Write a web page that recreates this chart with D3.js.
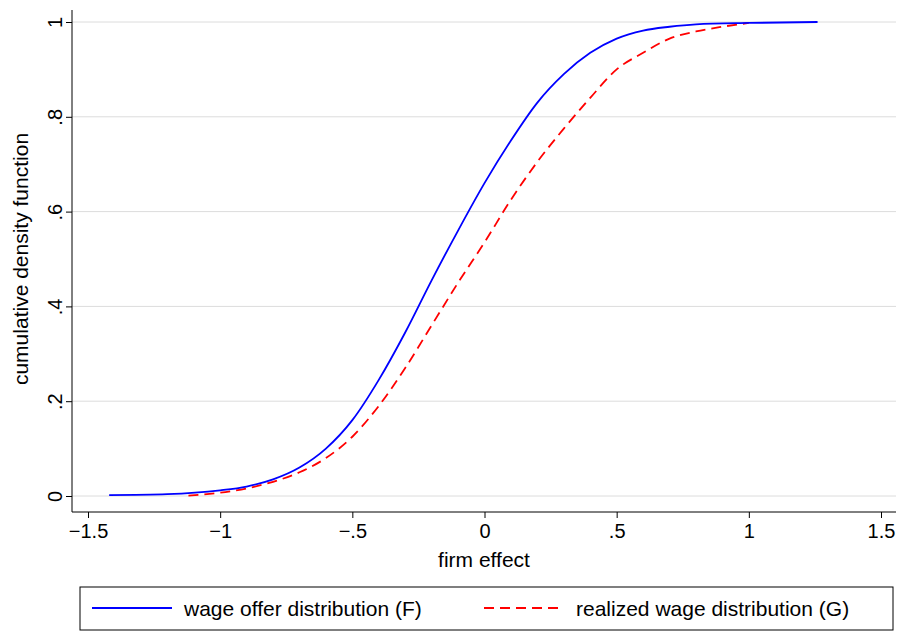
<!DOCTYPE html><html><head><meta charset="utf-8">
<script src="https://cdn.jsdelivr.net/npm/d3@7"></script>
<style>body{margin:0;background:#fff}text{font-family:"Liberation Sans",Arial,sans-serif}</style></head><body>
<svg id="c" width="901" height="633"></svg>
<script>
const xTicks=[-1.5,-1,-0.5,0,0.5,1,1.5];
const xTickLabels=["−1.5","−1","−.5","0",".5","1","1.5"];
const yTicks=[0,0.2,0.4,0.6,0.8,1];
const yTickLabels=["0",".2",".4",".6",".8","1"];
const fX=[-1.42,-1.2,-1.0,-0.9,-0.8,-0.7,-0.6,-0.5,-0.4,-0.3,-0.2,-0.1,0,0.1,0.2,0.3,0.4,0.5,0.6,0.7,0.8,1.0,1.26];
const fY=[0.002,0.004,0.012,0.02,0.035,0.06,0.1,0.16,0.245,0.345,0.455,0.56,0.66,0.75,0.83,0.89,0.935,0.965,0.982,0.99,0.995,0.998,1.0];
const gX=[-1.12,-1.0,-0.9,-0.8,-0.7,-0.6,-0.5,-0.4,-0.3,-0.2,-0.1,0,0.1,0.2,0.3,0.4,0.5,0.6,0.7,0.8,0.9,1.0];
const gY=[0.001,0.007,0.016,0.03,0.05,0.08,0.125,0.19,0.27,0.36,0.45,0.535,0.625,0.705,0.775,0.84,0.9,0.935,0.965,0.98,0.99,0.998];
const svg=d3.select("#c");
const x=d3.scaleLinear().domain([-1.5,1.5]).range([88,881]);
const y=d3.scaleLinear().domain([0,1]).range([496,22]);
const L=72,R=896,B=512;
svg.append("g").selectAll("line").data(yTicks).join("line")
 .attr("x1",L).attr("x2",R).attr("y1",d=>y(d)).attr("y2",d=>y(d)).attr("stroke","#dcdcdc");
const xa=svg.append("g").attr("transform",`translate(0,${B})`).call(d3.axisBottom(x).tickValues(xTicks).tickFormat((d,i)=>xTickLabels[i]).tickSize(6).tickSizeOuter(0));
xa.select(".domain").remove();
xa.append("line").attr("x1",L).attr("x2",R).attr("stroke","#000");
xa.selectAll("text").attr("font-size",20).attr("fill","#000").attr("dy","0.85em");
const ya=svg.append("g").attr("transform",`translate(${L},0)`).call(d3.axisLeft(y).tickValues(yTicks).tickFormat((d,i)=>yTickLabels[i]).tickSize(6).tickSizeOuter(0));
ya.select(".domain").remove();
ya.append("line").attr("y1",10).attr("y2",B).attr("stroke","#000");
ya.selectAll(".tick text").each(function(d){d3.select(this).attr("font-size",20).attr("fill","#000").attr("x",-17).attr("y",0).attr("dy","0.35em").attr("text-anchor","middle").attr("transform","rotate(-90,-17,0)")});
svg.append("text").attr("x",484).attr("y",567).attr("text-anchor","middle").attr("font-size",21).text("firm effect");
svg.append("text").attr("transform","translate(28,259) rotate(-90)").attr("text-anchor","middle").attr("font-size",21).text("cumulative density function");
const line=d3.line().x(d=>x(d[0])).y(d=>y(d[1])).curve(d3.curveMonotoneX);
svg.append("path").attr("d",line(gX.map((v,i)=>[v,gY[i]]))).attr("fill","none").attr("stroke","#ff0000").attr("stroke-width",1.8).attr("stroke-dasharray","10,6");
svg.append("path").attr("d",line(fX.map((v,i)=>[v,fY[i]]))).attr("fill","none").attr("stroke","#0000ff").attr("stroke-width",1.8);
svg.append("rect").attr("x",80).attr("y",587).attr("width",813).attr("height",43).attr("fill","none").attr("stroke","#000");
svg.append("line").attr("x1",92).attr("x2",172).attr("y1",608).attr("y2",608).attr("stroke","#0000ff").attr("stroke-width",1.8);
svg.append("text").attr("x",184).attr("y",616).attr("font-size",21).text("wage offer distribution (F)");
svg.append("line").attr("x1",484).attr("x2",564).attr("y1",608).attr("y2",608).attr("stroke","#ff0000").attr("stroke-width",1.8).attr("stroke-dasharray","10,6");
svg.append("text").attr("x",576).attr("y",616).attr("font-size",21).text("realized wage distribution (G)");
</script></body></html>
